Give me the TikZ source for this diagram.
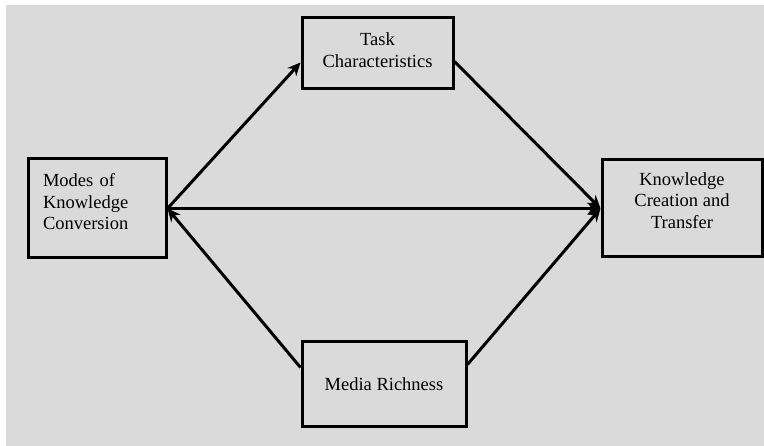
\documentclass[tikz,border=0pt]{standalone}
\usepackage{fontspec}
\setmainfont{Liberation Serif}
\usepackage{tikz}
\usetikzlibrary{arrows.meta, positioning, calc}
\definecolor{paneGray}{HTML}{DADADA}
\newcommand{\textlift}[1]{\rule[-#1]{0pt}{0pt}}

\begin{document}
\begin{tikzpicture}[
    x=1pt, y=-1pt,
    region/.style={draw, line width=3pt, align=center, font=\fontsize{18.5}{21.5}\selectfont, inner sep=0pt},
    link/.style={line width=3pt, -{Stealth[length=13pt, width=12pt]}},
]
    % Background
    \fill[white] (0, 0) rectangle (764, 446);
    \fill[paneGray] (6, 5) rectangle (764, 446);

    % Boxes
    \node[region, minimum width=138pt, minimum height=99pt, align=left, text width=108pt] (modes) at (97, 208.5) {Modes of\\Knowledge\\Conversion\textlift{14pt}};
    \node[region, minimum width=151pt, minimum height=71pt] (task) at (377.5, 53.5) {Task\\Characteristics\textlift{7pt}};
    \node[region, minimum width=160pt, minimum height=97pt] (creation) at (682, 208.5) {Knowledge\\Creation and\\Transfer\textlift{16pt}};
    \node[region, minimum width=164pt, minimum height=85pt] (media) at (384, 384.5) {Media Richness};

    % Paths
    \draw[link] (modes.east) -- ([yshift=-9pt]task.west);
    \draw[link] ([yshift=-8pt]task.east) -- (creation.west);
    \draw[link] (modes.east) -- (creation.west);
    \draw[link] ([yshift=17pt]media.west) -- (modes.east);
    \draw[link] ([yshift=20pt]media.east) -- (creation.west);
\end{tikzpicture}
\end{document}
